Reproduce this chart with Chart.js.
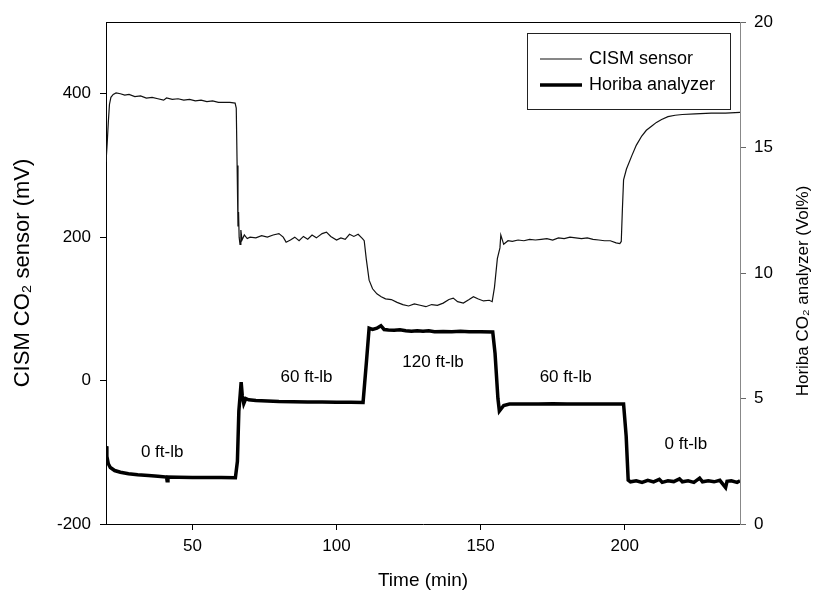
<!DOCTYPE html>
<html>
<head>
<meta charset="utf-8">
<script src="https://cdn.jsdelivr.net/npm/chart.js@4/dist/chart.umd.min.js"></script>
<style>
  body { margin: 0; background: #fff; }
  #wrap { width: 816px; height: 604px; position: relative; }
</style>
</head>
<body>
<div id="wrap"><canvas id="mychart"></canvas></div>
<script>
// CISM sensor trace (time in min, signal in mV, left axis)
var cismTime = [20.0, 20.4, 20.8, 21.2, 21.7, 22.5, 23.5, 25, 26.5, 28, 30, 32, 34, 36, 38, 40, 41, 43, 45, 47, 49, 51, 53, 55, 57, 59, 61, 63, 64.8,
  65.2, 65.5, 65.8, 66.0, 66.2, 66.5, 66.8, 67.2, 68, 69, 70, 72, 74, 76, 78, 80, 81.5, 82.5, 84, 85.5, 87, 88.5, 90, 91.5, 93, 95, 96.5, 98,
  100, 101.5, 103, 104.5, 106, 107.5, 109, 109.6, 110.3, 111.3, 112.5, 114, 115.5, 117, 119, 121, 123, 125, 127, 129, 131, 133, 135, 137,
  139, 140.5, 142, 144, 146, 147.5, 149, 151, 153, 154, 154.8, 155.8, 156.7, 157, 158, 159.5, 161, 163, 165, 167, 169, 171, 173, 175, 177,
  179, 181, 183, 185, 187, 189, 191, 193, 195, 197, 198.3, 198.8, 199.2, 199.6, 200.6, 202.4, 204, 205.9, 207.5, 209.4, 211, 212.8, 215,
  217.5, 220, 224.4, 230, 235, 240];
var cismMv = [305, 330, 360, 385, 395, 399, 401, 400, 398, 399, 396, 397, 394, 395, 393, 391, 394, 392, 393, 391, 392, 390, 391, 389, 390, 388, 388, 388, 387,
  380, 300, 215, 235, 200, 190, 210, 196, 203, 198, 200, 199, 202, 200, 203, 205, 200, 193, 196, 200, 195, 201, 197, 203, 199, 205, 207, 201,
  196, 199, 197, 204, 201, 204, 198, 195, 170, 140, 128, 121, 117, 114, 113, 109, 106, 104, 107, 105, 103, 106, 105, 108,
  113, 115, 110, 108, 113, 117, 114, 111, 112, 110, 130, 170, 185, 203, 190, 195, 194, 196, 195, 197, 196, 197, 198, 196, 199,
  198, 200, 199, 198, 199, 197, 196, 195, 195, 192, 191, 194, 240, 280, 295, 313, 328, 341, 349, 355, 360, 364, 368,
  370, 371, 372, 373, 373, 374];

// Horiba analyzer trace (time in min, CO2 in Vol%, right axis)
var horibaTime = [20.0, 20.3, 20.8, 21.5, 23, 25, 27.8, 31, 34.7, 38, 41, 41.2, 41.5, 45, 50, 55, 60, 64.9, 65.6, 66.1, 66.6, 66.9, 67.3, 67.8,
  68.5, 69.5, 72, 76, 80, 85, 90, 95, 100, 105, 109.2, 110.4, 111.3, 112.5, 114, 115.4, 116.5, 118, 120, 122, 124, 126, 128, 130, 132, 134,
  137, 140, 143, 146, 150, 154.2, 155, 156, 156.5, 157.2, 158, 160, 165, 170, 175, 180, 185, 190, 195, 199.6, 200.5, 201.2, 202, 204, 206,
  208, 210, 212, 213, 215, 217, 219, 220, 222, 224, 226, 227, 229, 231, 233, 235, 235.5, 237, 239, 240];
var horibaVol = [3.1, 2.7, 2.4, 2.25, 2.13, 2.06, 2.0, 1.96, 1.93, 1.9, 1.87, 1.72, 1.87, 1.86, 1.85, 1.85, 1.85, 1.84, 2.5, 4.5, 5.2, 5.65, 5.1, 4.8,
  5.0, 4.95, 4.92, 4.9, 4.88, 4.87, 4.86, 4.86, 4.85, 4.85, 4.84, 6.5, 7.8, 7.75, 7.8, 7.9, 7.75, 7.73, 7.72, 7.74, 7.7, 7.68, 7.7, 7.68, 7.7, 7.66,
  7.67, 7.66, 7.68, 7.66, 7.66, 7.65, 6.8, 5.0, 4.5, 4.6, 4.72, 4.78, 4.78, 4.78, 4.79, 4.78, 4.78, 4.78, 4.78, 4.78, 3.5, 1.75, 1.68, 1.72, 1.66,
  1.74, 1.68, 1.78, 1.66, 1.72, 1.69, 1.8, 1.68, 1.72, 1.66, 1.83, 1.68, 1.72, 1.68, 1.74, 1.45, 1.7, 1.72, 1.66, 1.72];

// torque annotations (text, time, left-axis mV for placement)
var noteText = ['0 ft-lb', '60 ft-lb', '120 ft-lb', '60 ft-lb', '0 ft-lb'];
var noteTime = [39.5, 89.6, 133.5, 179.5, 221.2];
var noteMv = [-100, 4, 26, 4, -89];

var FONT = "'Liberation Sans', Arial, sans-serif";

function pts(xs, ys) {
  var out = [];
  for (var i = 0; i < xs.length; i++) out.push({x: xs[i], y: ys[i]});
  return out;
}

var extras = {
  id: 'extras',
  afterDraw: function(chart) {
    var ctx = chart.ctx;
    var area = chart.chartArea;
    var xs = chart.scales.x, ys = chart.scales.y;
    ctx.save();
    // top frame line
    ctx.strokeStyle = '#000';
    ctx.lineWidth = 1;
    ctx.beginPath();
    ctx.moveTo(area.left, area.top + 0.5);
    ctx.lineTo(area.right, area.top + 0.5);
    ctx.stroke();

    // torque labels
    ctx.fillStyle = '#000';
    ctx.font = '17px ' + FONT;
    ctx.textAlign = 'center';
    ctx.textBaseline = 'middle';
    for (var i = 0; i < noteText.length; i++) {
      ctx.fillText(noteText[i], xs.getPixelForValue(noteTime[i]), ys.getPixelForValue(noteMv[i]));
    }

    // legend box
    var bx = 527, by = 33, bw = 203, bh = 76;
    ctx.fillStyle = '#fff';
    ctx.fillRect(bx, by, bw, bh);
    ctx.strokeStyle = '#222';
    ctx.strokeRect(bx + 0.5, by + 0.5, bw, bh);
    var ds = chart.data.datasets;
    var rows = [59, 85];
    for (var k = 0; k < ds.length; k++) {
      ctx.strokeStyle = ds[k].borderColor;
      ctx.lineWidth = ds[k].borderWidth;
      ctx.beginPath();
      ctx.moveTo(540, rows[k]);
      ctx.lineTo(582, rows[k]);
      ctx.stroke();
      ctx.fillStyle = '#000';
      ctx.textAlign = 'left';
      ctx.font = '18px ' + FONT;
      ctx.fillText(ds[k].label, 589, rows[k]);
    }

    // right axis title, reading bottom to top
    ctx.translate(803, (area.top + area.bottom) / 2 + 18);
    ctx.rotate(-Math.PI / 2);
    ctx.textAlign = 'center';
    ctx.font = '17px ' + FONT;
    ctx.fillText('Horiba CO\u2082 analyzer (Vol%)', 0, 0);
    ctx.restore();
  }
};

const ctx = document.getElementById('mychart');
var myLineChart = new Chart(ctx, {
  type: 'line',
  data: {
    datasets: [
      {
        label: 'CISM sensor',
        data: pts(cismTime, cismMv),
        yAxisID: 'y',
        borderColor: '#111',
        borderWidth: 1.2,
        pointRadius: 0,
        tension: 0,
        fill: false
      },
      {
        label: 'Horiba analyzer',
        data: pts(horibaTime, horibaVol),
        yAxisID: 'y1',
        borderColor: '#000',
        borderWidth: 3.5,
        pointRadius: 0,
        tension: 0,
        fill: false
      }
    ]
  },
  options: {
    responsive: true,
    maintainAspectRatio: false,
    animation: false,
    layout: { padding: { top: 22, left: 0, right: 0, bottom: 0 } },
    plugins: {
      legend: { display: false },
      tooltip: { enabled: false }
    },
    scales: {
      x: {
        type: 'linear',
        position: 'bottom',
        min: 20,
        max: 240,
        ticks: { stepSize: 50, includeBounds: false, color: '#000', font: { family: FONT, size: 17 }, padding: 6, maxRotation: 0 },
        grid: { drawOnChartArea: false, tickLength: 6, color: '#000' },
        border: { color: '#000', width: 1 },
        title: { display: true, text: 'Time (min)', color: '#000', font: { family: FONT, size: 19 }, padding: { bottom: 12 } },
        afterFit: function(scale) { scale.height = 80; }
      },
      y: {
        type: 'linear',
        position: 'left',
        min: -200,
        max: 500,
        ticks: { stepSize: 200, includeBounds: false, color: '#000', font: { family: FONT, size: 17 }, padding: 9 },
        grid: { drawOnChartArea: false, tickLength: 6, color: '#000' },
        border: { color: '#000', width: 1 },
        title: { display: true, text: 'CISM CO\u2082 sensor (mV)', color: '#000', font: { family: FONT, size: 22 }, padding: { top: 10 } },
        afterFit: function(scale) { scale.width = 106; }
      },
      y1: {
        type: 'linear',
        position: 'right',
        min: 0,
        max: 20,
        ticks: { stepSize: 5, includeBounds: false, color: '#000', font: { family: FONT, size: 17 }, padding: 8 },
        grid: { drawOnChartArea: false, tickLength: 6, color: '#666' },
        border: { color: '#888', width: 1 },
        title: { display: false },
        afterFit: function(scale) { scale.width = 76; }
      }
    }
  },
  plugins: [extras]
});
</script>
</body>
</html>
